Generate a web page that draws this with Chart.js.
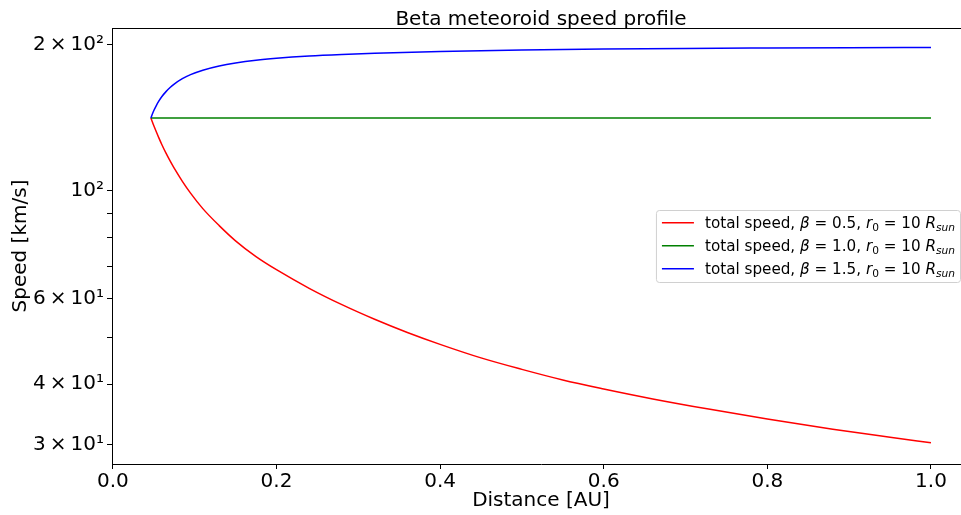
<!DOCTYPE html>
<html>
<head>
<meta charset="utf-8">
<title>Beta meteoroid speed profile</title>
<script src="https://cdn.jsdelivr.net/npm/chart.js@4.4.1/dist/chart.umd.min.js"></script>
<style>
  html, body { margin: 0; padding: 0; background: #fff; overflow: hidden; }
  #wrap { width: 975px; height: 515px; }
</style>
</head>
<body>
<div id="wrap"><canvas id="chart"></canvas></div>
<script>
// values
const distRed = [0.0465, 0.048, 0.050, 0.053, 0.056, 0.060, 0.065, 0.070, 0.075, 0.085, 0.095, 0.11, 0.13, 0.15, 0.175, 0.20, 0.24, 0.28, 0.32, 0.36, 0.40, 0.45, 0.50, 0.55, 0.60, 0.66, 0.73, 0.80, 0.88, 0.95, 1.00];
const speedRed = [141.2, 139.0, 136.3, 132.4, 128.8, 124.4, 119.5, 115.2, 111.3, 104.6, 98.9, 91.9, 84.8, 78.9, 73.2, 68.8, 63.0, 58.3, 54.4, 51.1, 48.3, 45.3, 42.9, 40.8, 39.1, 37.3, 35.5, 33.9, 32.3, 31.1, 30.3];

const distGreen = [0.0465, 1.0];
const speedGreen = [141.2, 141.2];

const distBlue = [0.0465, 0.048, 0.050, 0.053, 0.056, 0.060, 0.065, 0.070, 0.075, 0.085, 0.095, 0.11, 0.13, 0.15, 0.175, 0.20, 0.24, 0.28, 0.32, 0.40, 0.50, 0.60, 0.70, 0.80, 0.90, 1.00];
const speedBlue = [141.2, 143.4, 146.1, 149.6, 152.7, 156.3, 160.0, 163.1, 165.8, 170.1, 173.4, 177.1, 180.7, 183.3, 185.7, 187.4, 189.4, 190.8, 191.9, 193.5, 194.8, 195.7, 196.3, 196.7, 197.0, 197.2];

const betaValues = ["0.5", "1.0", "1.5"];
const lineColors = ["#ff0000", "#008000", "#0000ff"];

const xTicks = [0.0, 0.2, 0.4, 0.6, 0.8, 1.0];
const yTicks = [30, 40, 50, 60, 70, 80, 90, 100, 200];
const yTickLabels = ["3\u2009×\u200910¹", "4\u2009×\u200910¹", "", "6\u2009×\u200910¹", "", "", "", "10²", "2\u2009×\u200910²"];

const FONT = '"DejaVu Sans", sans-serif';

function toPoints(xs, ys) {
    return xs.map((x, i) => ({ x: x, y: ys[i] }));
}

// title centred over the axes, like matplotlib
const titlePlugin = {
    id: "axTitle",
    afterDraw(chart) {
        const { ctx, chartArea } = chart;
        ctx.save();
        ctx.font = "20px " + FONT;
        ctx.fillStyle = "#000";
        ctx.textAlign = "center";
        ctx.textBaseline = "alphabetic";
        ctx.fillText("Beta meteoroid speed profile", (chartArea.left + chartArea.right) / 2, 24.5);
        // top spine
        ctx.strokeStyle = "#000";
        ctx.lineWidth = 1;
        ctx.beginPath();
        ctx.moveTo(chartArea.left, chartArea.top + 0.5);
        ctx.lineTo(chartArea.right, chartArea.top + 0.5);
        ctx.stroke();
        ctx.restore();
    }
};

// legend with italic symbols and subscripts
const legendPlugin = {
    id: "mathLegend",
    afterDraw(chart) {
        const { ctx, chartArea } = chart;
        const size = 15.2;
        const subSize = size * 0.7;
        const rowH = 23;
        const rows = betaValues.map(b => [
            ["total speed, ", "n"], ["β", "i"], [" = " + b + ", ", "n"],
            ["r", "i"], ["0", "sub"], [" = 10 ", "n"], ["R", "i"], ["sun", "isub"]
        ]);
        const fontFor = s => {
            if (s === "n") return size + "px " + FONT;
            if (s === "i") return "italic " + size + "px " + FONT;
            if (s === "sub") return subSize + "px " + FONT;
            return "italic " + subSize + "px " + FONT;
        };
        ctx.save();
        let textW = 0;
        rows.forEach(r => {
            let w = 0;
            r.forEach(([t, s]) => { ctx.font = fontFor(s); w += ctx.measureText(t).width; });
            textW = Math.max(textW, w);
        });
        const boxW = 6 + 32 + 11 + textW + 5;
        const boxH = 72;
        const right = chartArea.right - 10;
        const left = right - boxW;
        const top = (chartArea.top + chartArea.bottom) / 2 - boxH / 2;

        ctx.fillStyle = "rgba(255,255,255,0.8)";
        ctx.strokeStyle = "#d0d0d0";
        ctx.lineWidth = 1;
        ctx.beginPath();
        ctx.roundRect(left + 0.5, top + 0.5, boxW, boxH, 3);
        ctx.fill();
        ctx.stroke();

        rows.forEach((r, i) => {
            const cy = top + 12.7 + i * rowH;
            ctx.strokeStyle = lineColors[i];
            ctx.lineWidth = 1.5;
            ctx.beginPath();
            ctx.moveTo(left + 6, cy);
            ctx.lineTo(left + 38, cy);
            ctx.stroke();

            let x = left + 49;
            const base = cy + 5.5;
            ctx.fillStyle = "#000";
            ctx.textAlign = "left";
            ctx.textBaseline = "alphabetic";
            r.forEach(([t, s]) => {
                ctx.font = fontFor(s);
                const y = (s === "sub" || s === "isub") ? base + 3 : base;
                ctx.fillText(t, x, y);
                x += ctx.measureText(t).width;
            });
        });
        ctx.restore();
    }
};

const ctx = document.getElementById("chart").getContext("2d");

new Chart(ctx, {
    type: "line",
    data: {
        datasets: [
            { label: "beta 0.5", data: toPoints(distRed, speedRed), borderColor: lineColors[0], order: 3 },
            { label: "beta 1.0", data: toPoints(distGreen, speedGreen), borderColor: lineColors[1], order: 2 },
            { label: "beta 1.5", data: toPoints(distBlue, speedBlue), borderColor: lineColors[2], order: 1 }
        ]
    },
    options: {
        responsive: true,
        maintainAspectRatio: false,
        animation: false,
        layout: { padding: { top: 28, right: 5, left: 0, bottom: 0 } },
        elements: {
            line: { borderWidth: 1.5, fill: false, cubicInterpolationMode: "monotone" },
            point: { radius: 0, hoverRadius: 0 }
        },
        plugins: {
            legend: { display: false },
            tooltip: { enabled: false },
            title: { display: false }
        },
        scales: {
            x: {
                type: "linear",
                min: -0.001,
                max: 1.0477,
                afterBuildTicks: s => { s.ticks = xTicks.map(v => ({ value: v })); },
                afterFit: s => { s.height = 51; s.paddingLeft = 0; s.paddingRight = 0; },
                ticks: {
                    color: "#000",
                    font: { family: FONT, size: 20 },
                    padding: 1,
                    maxRotation: 0,
                    callback: v => Number(v).toFixed(1)
                },
                grid: { drawOnChartArea: false, drawTicks: true, tickLength: 5, tickColor: "#000" },
                border: { display: true, color: "#000", width: 1 },
                title: {
                    display: true,
                    text: "Distance [AU]",
                    color: "#000",
                    font: { family: FONT, size: 20 },
                    padding: { top: 0, bottom: 2 }
                }
            },
            y: {
                type: "logarithmic",
                min: 27.4,
                max: 216.3,
                afterBuildTicks: s => { s.ticks = yTicks.map(v => ({ value: v })); },
                afterFit: s => { s.width = 112; s.paddingTop = 0; s.paddingBottom = 0; },
                ticks: {
                    color: "#000",
                    font: { family: FONT, size: 20 },
                    padding: 3,
                    autoSkip: false,
                    callback: v => {
                        const i = yTicks.indexOf(v);
                        return i >= 0 ? yTickLabels[i] : "";
                    }
                },
                grid: { drawOnChartArea: false, drawTicks: true, tickLength: 5, tickColor: "#000" },
                border: { display: true, color: "#000", width: 1 },
                title: {
                    display: true,
                    text: "Speed [km/s]",
                    color: "#000",
                    font: { family: FONT, size: 20 },
                    padding: { top: 9, bottom: 0 }
                }
            }
        }
    },
    plugins: [titlePlugin, legendPlugin]
});
</script>
</body>
</html>
